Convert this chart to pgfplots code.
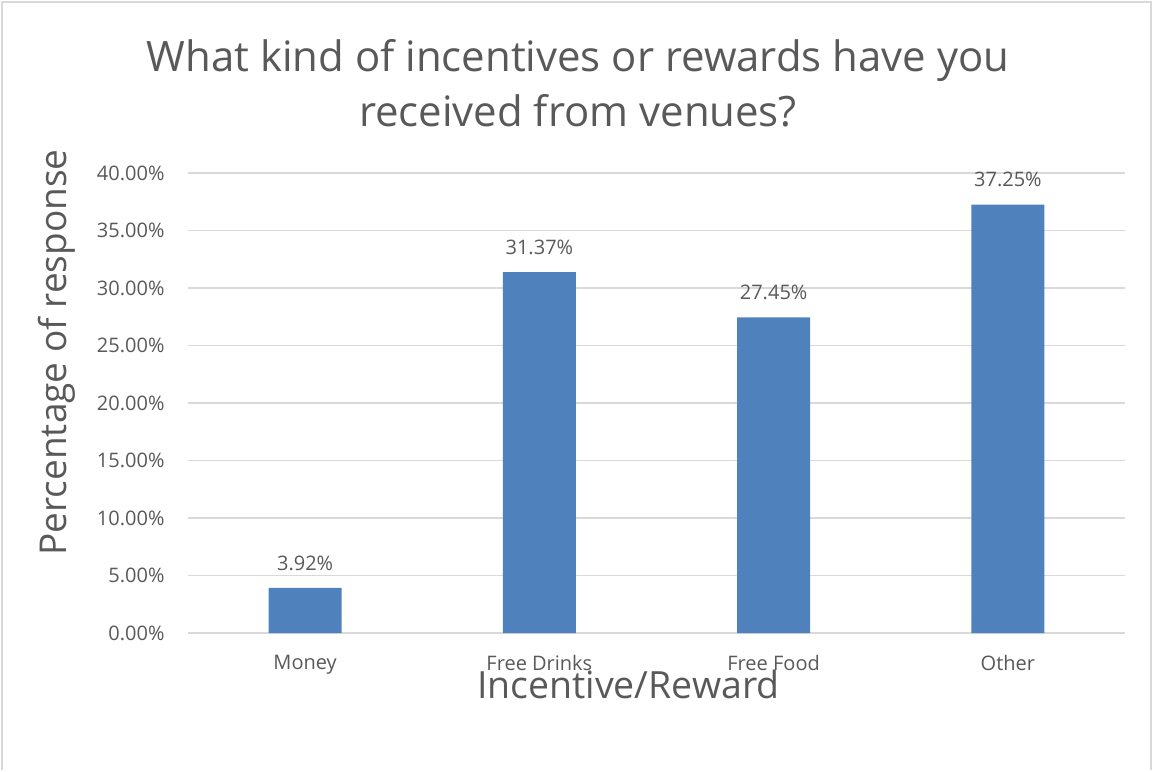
\documentclass[border=0pt]{standalone}
\usepackage{fontspec}
\setmainfont{Open Sans}
\usepackage{pgfplots}
\pgfplotsset{compat=1.18}
\definecolor{barblue}{HTML}{4F81BD}
\definecolor{txtgray}{HTML}{595959}
\definecolor{gridgray}{HTML}{D9D9D9}
\begin{document}
\begin{tikzpicture}
\path (0pt,0pt) rectangle (1153pt,770pt);
\draw[gridgray, line width=2pt] (2pt,0pt) -- (2pt,768pt) -- (1151pt,768pt) -- (1151pt,0pt);
\node[txtgray, align=center, font=\fontsize{41.9}{55}\selectfont] at (578pt,687pt) {What kind of incentives or rewards have you\\received from venues?};
\begin{axis}[
  at={(188pt,137pt)}, anchor=south west,
  width=937pt, height=460pt, scale only axis,
  xmin=-0.5, xmax=3.5, ymin=0, ymax=40,
  xtick={0,1,2,3},
  xticklabels={Money,Free Drinks,Free Food,Other},
  ytick={0,5,10,15,20,25,30,35,40},
  yticklabel={\pgfmathprintnumber[fixed,fixed zerofill,precision=2]{\tick}\%},
  /pgf/number format/assume math mode=true,
  ymajorgrids, grid style={gridgray, line width=1.5pt},
  axis line style={draw=none},
  axis x line*=bottom,
  x axis line style={gridgray, line width=1.5pt},
  tick style={draw=none},
  ticklabel style={txtgray, font=\fontsize{20}{24}\selectfont},
  yticklabel style={xshift=-20pt},
  xticklabel style={yshift=-19pt},
  xlabel={Incentive/Reward},
  xlabel style={at={(axis description cs:0.47,-0.111)}, anchor=center, txtgray, font=\fontsize{37.5}{44}\selectfont},
  ylabel={Percentage of response},
  ylabel style={at={(axis description cs:-0.140,0.61)}, anchor=center, txtgray, font=\fontsize{37}{44}\selectfont},
  nodes near coords={\pgfmathprintnumber[fixed,fixed zerofill,precision=2]{\pgfplotspointmeta}\%},
  nodes near coords style={txtgray, font=\fontsize{20}{24}\selectfont, yshift=14pt, /pgf/number format/assume math mode=true},
]
\addplot[ybar, bar width=73pt, fill=barblue, draw=none] coordinates {(0,3.92) (1,31.37) (2,27.45) (3,37.25)};
\end{axis}
\end{tikzpicture}
\end{document}
